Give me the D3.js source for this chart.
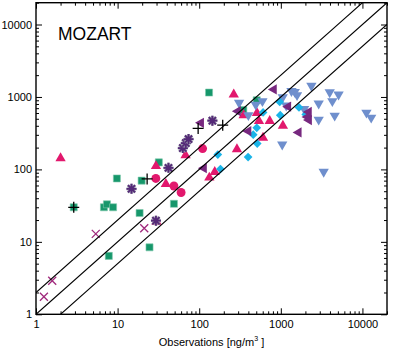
<!DOCTYPE html>
<html>
<head>
<meta charset="utf-8">
<script src="https://cdn.jsdelivr.net/npm/d3@7"></script>
<style>
  body { margin: 0; background: #fff; }
  svg { display: block; font-family: "Liberation Sans", Arial, Helvetica, sans-serif; }
</style>
</head>
<body>
<div id="chart"></div>
<script>
const redTriangles = [[2, 143], [29.5, 111], [39, 63], [30, 19], [68, 157], [265, 1080], [350, 560],
  [510, 600], [540, 465], [731, 465], [1060, 400], [605, 273], [290, 190], [155, 92], [133, 77]];
const redCircles = [[29.4, 75], [49, 59], [60, 48], [110, 194]];
const greenSquares = [[2.9, 30], [6.8, 30], [7.4, 33], [8.8, 30], [9.8, 75], [7.8, 6.4], [19.7, 70],
  [18.6, 25], [24.6, 8.4], [49, 33.5], [32, 125], [132, 1150], [347, 660], [507, 900]];
const blackPlus = [[2.9, 30], [23, 74], [97, 368], [194, 408]];
const purpleStars = [[14.8, 54], [29.5, 19.6], [42, 105], [63, 197], [68.5, 231], [74, 262], [145, 470]];
const purpleLeftTriangles = [[105, 440], [114, 104], [297, 637], [400, 337], [820, 1270], [1230, 735],
  [1650, 324], [2200, 620], [2120, 530], [2210, 480]];
const cyanDiamonds = [[169, 160], [182, 101], [397, 148], [514, 227], [459, 302], [507, 375], [606, 611],
  [970, 855], [984, 561], [1670, 716], [2020, 574]];
const blueDownTriangles = [[308, 830], [400, 561], [493, 783], [595, 875], [1055, 994], [1164, 760],
  [1350, 1210], [1480, 1175], [1580, 1060], [1930, 680], [2370, 1430], [2910, 810], [2910, 486],
  [3970, 1160], [5100, 1080], [4280, 875], [4570, 552], [11200, 607], [12800, 518], [1040, 220], [3350, 93]];
const purpleCrosses = [[1.25, 1.75], [1.58, 2.9], [5.4, 12.9], [21.2, 15.4]];

const ratioLines = [0.5, 1, 2];
const majorTicks = [1, 10, 100, 1000, 10000];
const axisDomain = [1, 20000];

const series = [
  {data: greenSquares, kind: 'square', color: '#16976b'},
  {data: redCircles, kind: 'circle', color: '#e2186d'},
  {data: redTriangles, kind: 'up', color: '#e2186d'},
  {data: blueDownTriangles, kind: 'down', color: '#6f8fcd'},
  {data: cyanDiamonds, kind: 'diamond', color: '#1ab4e8'},
  {data: purpleLeftTriangles, kind: 'left', color: '#77287f'},
  {data: purpleStars, kind: 'star', color: '#552a78'},
  {data: purpleCrosses, kind: 'cross', color: '#a0287c'},
  {data: blackPlus, kind: 'plus', color: '#000'}
];

const width = 400, height = 353;
const margin = {top: 2.7, right: 13, bottom: 38.7, left: 36};

const svg = d3.select('#chart').append('svg')
  .attr('width', width)
  .attr('height', height);

const x = d3.scaleLog().domain(axisDomain).range([margin.left, width - margin.right]);
const y = d3.scaleLog().domain(axisDomain).range([height - margin.bottom, margin.top]);

const minorTicks = x.ticks().filter(d => !majorTicks.includes(d));

svg.append('defs').append('clipPath')
  .attr('id', 'plot-clip')
  .append('rect')
  .attr('x', x.range()[0]).attr('y', y.range()[1])
  .attr('width', x.range()[1] - x.range()[0])
  .attr('height', y.range()[0] - y.range()[1]);

const plot = svg.append('g').attr('clip-path', 'url(#plot-clip)');

// markers
const sym = (type, size) => d3.symbol().type(type).size(size)();
series.forEach(s => {
  const g = plot.append('g');
  const pts = g.selectAll('g.pt').data(s.data).join('g')
    .attr('class', 'pt')
    .attr('transform', d => `translate(${x(d[0])},${y(d[1])})`);

  if (s.kind === 'square') {
    pts.append('path').attr('d', sym(d3.symbolSquare, 50)).attr('fill', s.color)
      .attr('stroke', '#7fc9ad').attr('stroke-width', 0.6);
  } else if (s.kind === 'circle') {
    pts.append('path').attr('d', sym(d3.symbolCircle, 62)).attr('fill', s.color);
  } else if (s.kind === 'up' || s.kind === 'down' || s.kind === 'left') {
    const rot = s.kind === 'up' ? 0 : s.kind === 'down' ? 180 : -90;
    pts.append('path').attr('d', sym(d3.symbolTriangle, 46)).attr('fill', s.color)
      .attr('transform', `rotate(${rot})`);
  } else if (s.kind === 'diamond') {
    pts.append('path').attr('d', sym(d3.symbolSquare, 38)).attr('fill', s.color)
      .attr('transform', 'rotate(45)');
  } else if (s.kind === 'star') {
    const star = 'M-5,0L5,0M0,-5L0,5M-3.6,-3.6L3.6,3.6M-3.6,3.6L3.6,-3.6';
    pts.append('path').attr('d', star).attr('stroke', '#9a9aaa').attr('stroke-width', 2.8);
    pts.append('path').attr('d', star).attr('stroke', s.color).attr('stroke-width', 1.8);
    pts.append('circle').attr('r', 2.2).attr('fill', s.color);
  } else if (s.kind === 'cross') {
    pts.append('path').attr('d', 'M-4,-4L4,4M-4,4L4,-4')
      .attr('stroke', s.color).attr('stroke-width', 1.3);
  } else if (s.kind === 'plus') {
    pts.append('path').attr('d', 'M-5.5,0L5.5,0M0,-5.5L0,5.5')
      .attr('stroke', s.color).attr('stroke-width', 1.3);
  }
});

// 1:2, 1:1 and 2:1 lines
const line = d3.line().x(d => x(d[0])).y(d => y(d[1]));
plot.selectAll('path.ratio').data(ratioLines).join('path')
  .attr('class', 'ratio')
  .attr('d', r => line([[axisDomain[0], axisDomain[0] * r], [axisDomain[1], axisDomain[1] * r]]))
  .attr('fill', 'none')
  .attr('stroke', '#000')
  .attr('stroke-width', 1.1);

// axes with inward ticks on all four sides
const pBottom = height - margin.bottom, pLeft = margin.left, pRight = width - margin.right, pTop = margin.top;
const styleAxis = g => {
  g.select('.domain').remove();
  g.selectAll('.tick line').attr('stroke', '#000').attr('stroke-width', 1);
  g.selectAll('.tick text').attr('fill', '#000').attr('font-size', 11)
    .attr('font-family', '"Liberation Sans", Arial, Helvetica, sans-serif');
};

svg.append('g').attr('transform', `translate(0,${pBottom})`)
  .call(d3.axisBottom(x).tickValues(majorTicks).tickFormat(d3.format('d')).tickSize(-6).tickPadding(6))
  .call(styleAxis);
svg.append('g').attr('transform', `translate(0,${pBottom})`)
  .call(d3.axisBottom(x).tickValues(minorTicks).tickFormat('').tickSize(-3))
  .call(styleAxis);
svg.append('g').attr('transform', `translate(0,${pTop})`)
  .call(d3.axisTop(x).tickValues(majorTicks).tickFormat('').tickSize(-6))
  .call(styleAxis);
svg.append('g').attr('transform', `translate(0,${pTop})`)
  .call(d3.axisTop(x).tickValues(minorTicks).tickFormat('').tickSize(-3))
  .call(styleAxis);

svg.append('g').attr('transform', `translate(${pLeft},0)`)
  .call(d3.axisLeft(y).tickValues(majorTicks).tickFormat(d3.format('d')).tickSize(-6).tickPadding(4))
  .call(styleAxis);
svg.append('g').attr('transform', `translate(${pLeft},0)`)
  .call(d3.axisLeft(y).tickValues(minorTicks).tickFormat('').tickSize(-3))
  .call(styleAxis);
svg.append('g').attr('transform', `translate(${pRight},0)`)
  .call(d3.axisRight(y).tickValues(majorTicks).tickFormat('').tickSize(-6))
  .call(styleAxis);
svg.append('g').attr('transform', `translate(${pRight},0)`)
  .call(d3.axisRight(y).tickValues(minorTicks).tickFormat('').tickSize(-3))
  .call(styleAxis);

// frame
svg.append('rect')
  .attr('x', pLeft).attr('y', pTop)
  .attr('width', pRight - pLeft).attr('height', pBottom - pTop)
  .attr('fill', 'none').attr('stroke', '#000').attr('stroke-width', 1.4);

// title and axis label
svg.append('text')
  .attr('x', 58).attr('y', 40)
  .attr('font-size', 17.5)
  .text('MOZART');

const xlab = svg.append('text')
  .attr('x', (pLeft + pRight) / 2).attr('y', 346)
  .attr('text-anchor', 'middle')
  .attr('font-size', 11);
xlab.append('tspan').text('Observations [ng/m');
xlab.append('tspan').attr('font-size', 7).attr('dy', -5).text('3');
xlab.append('tspan').attr('dy', 5).text(' ]');
</script>
</body>
</html>
